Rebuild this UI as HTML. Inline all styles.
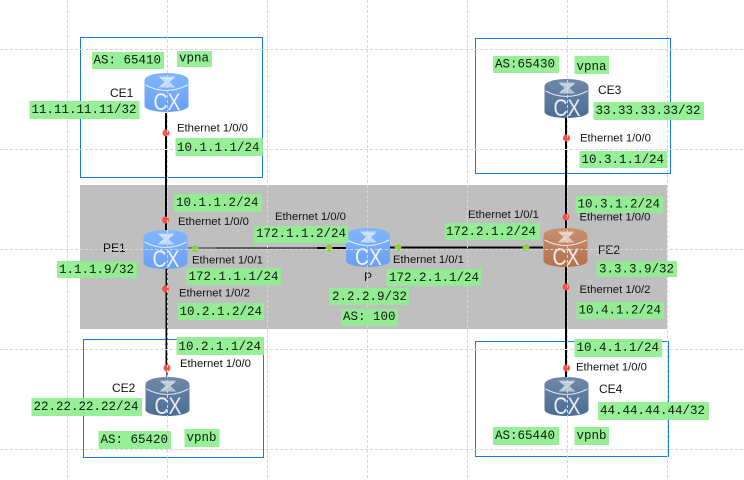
<!DOCTYPE html>
<html><head><meta charset="utf-8"><style>
html,body{margin:0;padding:0;background:#fff}
svg{display:block}
.m{font:12.5px "Liberation Mono",monospace;fill:#0c1c0c}
.s{font:11.3px "Liberation Sans",sans-serif;fill:#111}
.n{font:12px "Liberation Sans",sans-serif;fill:#111}
.c{font:24px "Liberation Sans",sans-serif;fill:#fff;fill-opacity:.88}
.g{fill:#90ee90;fill-opacity:.94}
</style></head><body>
<svg width="744" height="480" viewBox="0 0 744 480" xmlns="http://www.w3.org/2000/svg">
<defs>
<linearGradient id="b" x1="0" y1="0" x2="0" y2="1"><stop offset="0" stop-color="#80b6ff"/><stop offset="1" stop-color="#6aa0f2"/></linearGradient>
<linearGradient id="d" x1="0" y1="0" x2="0" y2="1"><stop offset="0" stop-color="#6f88a8"/><stop offset="1" stop-color="#4a6d96"/></linearGradient>
<linearGradient id="r" x1="0" y1="0" x2="0" y2="1"><stop offset="0" stop-color="#c98f6f"/><stop offset="1" stop-color="#b4714e"/></linearGradient>
<g id="top"><path d="M14 3.500H31L25 9L31 14.500H14L20 9Z" fill="#fff" fill-opacity=".55"/><path d="M16 5.500H29L22.500 9.500L16 13" fill="none" stroke="#fff" stroke-opacity=".5" stroke-width=".8"/><path d="M1 12Q22 23 43 12" fill="none" stroke="#fff" stroke-opacity=".8"/></g>
<path id="body" d="M0 7A22 7 0 0 1 44 7V33A22 6 0 0 1 0 33Z"/>
</defs>
<rect width="744" height="480" fill="#fff"/>
<rect x="80" y="185" width="587" height="144" fill="#bfbfbf"/>
<g fill="none" stroke="#1a78e6" stroke-width="1">
<rect x="80.500" y="37.500" width="182" height="140"/>
<rect x="475.500" y="38.500" width="195" height="135"/>
<rect x="83.500" y="339.500" width="180" height="118"/>
<rect x="475.500" y="341.500" width="193" height="115"/>
</g>
<g stroke="#000" stroke-width="2" fill="none">
<path d="M166 113V230"/><path d="M166.500 269V368"/>
<path d="M566 118V228"/><path d="M566 267V377"/>
<path d="M390 247.500H543"/><path d="M317 248H346"/>
</g>
<path d="M167 368V377" stroke="#666" stroke-width="2"/>
<path d="M188 248H216" stroke="#777" stroke-width="2"/>
<path d="M216 248H317" stroke="#222" stroke-width="1.200"/>

<use href="#body" x="144.500" y="73" fill="url(#b)"/><use href="#top" x="144.500" y="73"/><text class="c" x="153.500" y="110" textLength="27" lengthAdjust="spacingAndGlyphs">CX</text>
<use href="#body" x="143.500" y="230" fill="url(#b)"/><use href="#top" x="143.500" y="230"/><text class="c" x="152.500" y="267" textLength="27" lengthAdjust="spacingAndGlyphs">CX</text>
<use href="#body" x="346" y="228" fill="url(#b)"/><use href="#top" x="346" y="228"/><text class="c" x="355" y="265" textLength="27" lengthAdjust="spacingAndGlyphs">CX</text>
<use href="#body" x="543.500" y="228" fill="url(#r)"/><use href="#top" x="543.500" y="228"/><text class="c" x="552.500" y="265" textLength="27" lengthAdjust="spacingAndGlyphs">CX</text>
<use href="#body" x="544.500" y="79" fill="url(#d)"/><use href="#top" x="544.500" y="79"/><text class="c" x="553.500" y="116" textLength="27" lengthAdjust="spacingAndGlyphs">CX</text>
<use href="#body" x="145.500" y="377" fill="url(#d)"/><use href="#top" x="145.500" y="377"/><text class="c" x="154.500" y="414" textLength="27" lengthAdjust="spacingAndGlyphs">CX</text>
<use href="#body" x="544.500" y="377" fill="url(#d)"/><use href="#top" x="544.500" y="377"/><text class="c" x="553.500" y="414" textLength="27" lengthAdjust="spacingAndGlyphs">CX</text>

<g fill="#f8504a">
<circle cx="166" cy="133" r="3.500"/><circle cx="165.500" cy="220" r="3.500"/><circle cx="165.500" cy="289" r="3.500"/><circle cx="167" cy="368" r="3.500"/>
<circle cx="566.500" cy="138" r="3.500"/><circle cx="566" cy="217" r="3.500"/><circle cx="566" cy="287" r="3.500"/><circle cx="566.500" cy="368" r="3.500"/>
</g>
<g fill="#8ccf3c">
<circle cx="195" cy="249" r="3.500"/><circle cx="329" cy="248" r="3.500"/><circle cx="398" cy="247.500" r="3.500"/><circle cx="526" cy="247.500" r="3.500"/>
</g>

<g class="n">
<text x="110" y="97">CE1</text><text x="103" y="252">PE1</text><text x="364" y="281">P</text><text x="598" y="254">FE2</text><text x="598" y="94">CE3</text><text x="599" y="393">CE4</text><text x="112" y="392">CE2</text>
</g>

<g stroke="#d6d6d6" stroke-width="1" stroke-dasharray="3 2" fill="none">
<path d="M0 49.500H744M0 149.500H744M0 249.500H744M0 349.500H744M0 449.500H744"/>
<path d="M67.500 0V480M167.500 0V480M267.500 0V480M367.500 0V480M467.500 0V480M567.500 0V480M667.500 0V480"/>
</g>

<g class="g">
<rect x="92" y="52" width="72" height="17"/><rect x="177" y="51" width="35" height="16"/><rect x="29.500" y="101" width="110" height="18"/><rect x="175.500" y="138" width="87.500" height="18"/>
<rect x="174" y="194" width="88" height="18"/><rect x="186.500" y="268" width="94.500" height="17"/><rect x="178" y="303" width="86" height="17"/><rect x="57" y="261" width="80" height="17"/>
<rect x="254" y="226" width="94.500" height="17"/><rect x="444.500" y="223" width="95.500" height="17"/><rect x="386.500" y="269" width="95" height="17"/><rect x="329" y="288" width="80" height="17"/><rect x="341" y="309" width="57" height="17"/>
<rect x="575.500" y="196" width="87.500" height="17"/><rect x="596.500" y="261" width="80.500" height="16"/><rect x="576.500" y="302" width="87.500" height="17"/>
<rect x="493" y="56" width="66" height="17"/><rect x="574.500" y="56" width="34.500" height="18"/><rect x="593.500" y="102" width="110.500" height="18"/><rect x="579.500" y="151" width="87.500" height="17"/>
<rect x="574.500" y="339" width="87.500" height="18"/><rect x="598" y="402" width="111" height="18"/><rect x="493" y="427" width="66" height="18"/><rect x="574.500" y="427" width="34.500" height="18"/>
<rect x="176.500" y="337" width="87.500" height="18"/><rect x="31.500" y="398" width="110.500" height="18"/><rect x="98.500" y="431" width="72.500" height="18"/><rect x="184.500" y="429" width="35" height="18"/>
</g>

<g class="m">
<text x="93.500" y="63.500">AS: 65410</text><text x="179" y="61.500">vpna</text><text x="31.500" y="113">11.11.11.11/32</text><text x="177" y="151">10.1.1.1/24</text>
<text x="176" y="206">10.1.1.2/24</text><text x="188.500" y="280">172.1.1.1/24</text><text x="179.500" y="315">10.2.1.2/24</text><text x="59" y="273">1.1.1.9/32</text>
<text x="256" y="237">172.1.1.2/24</text><text x="446" y="235">172.2.1.2/24</text><text x="389" y="281">172.2.1.1/24</text><text x="332" y="300">2.2.2.9/32</text><text x="343" y="320">AS: 100</text>
<text x="577.500" y="207.500">10.3.1.2/24</text><text x="599" y="272.500">3.3.3.9/32</text><text x="578.500" y="313.500">10.4.1.2/24</text>
<text x="495" y="67.500">AS:65430</text><text x="576.500" y="70">vpna</text><text x="595.500" y="114">33.33.33.33/32</text><text x="581.500" y="163">10.3.1.1/24</text>
<text x="576.500" y="351">10.4.1.1/24</text><text x="600" y="414">44.44.44.44/32</text><text x="495" y="439">AS:65440</text><text x="576.500" y="439">vpnb</text>
<text x="178.500" y="350">10.2.1.1/24</text><text x="33.500" y="410">22.22.22.22/24</text><text x="100.500" y="443">AS: 65420</text><text x="186.500" y="441">vpnb</text>
</g>

<g class="s">
<text x="177" y="131.500">Ethernet 1/0/0</text><text x="178" y="225">Ethernet 1/0/0</text><text x="192" y="263.500">Ethernet 1/0/1</text><text x="179" y="296.500">Ethernet 1/0/2</text>
<text x="275" y="220">Ethernet 1/0/0</text><text x="393" y="263">Ethernet 1/0/1</text><text x="468" y="218">Ethernet 1/0/1</text>
<text x="579.500" y="220.500">Ethernet 1/0/0</text><text x="579.500" y="293">Ethernet 1/0/2</text><text x="580" y="141.500">Ethernet 1/0/0</text><text x="576" y="370.500">Ethernet 1/0/0</text><text x="180" y="367">Ethernet 1/0/0</text>
</g>
</svg>
</body></html>
